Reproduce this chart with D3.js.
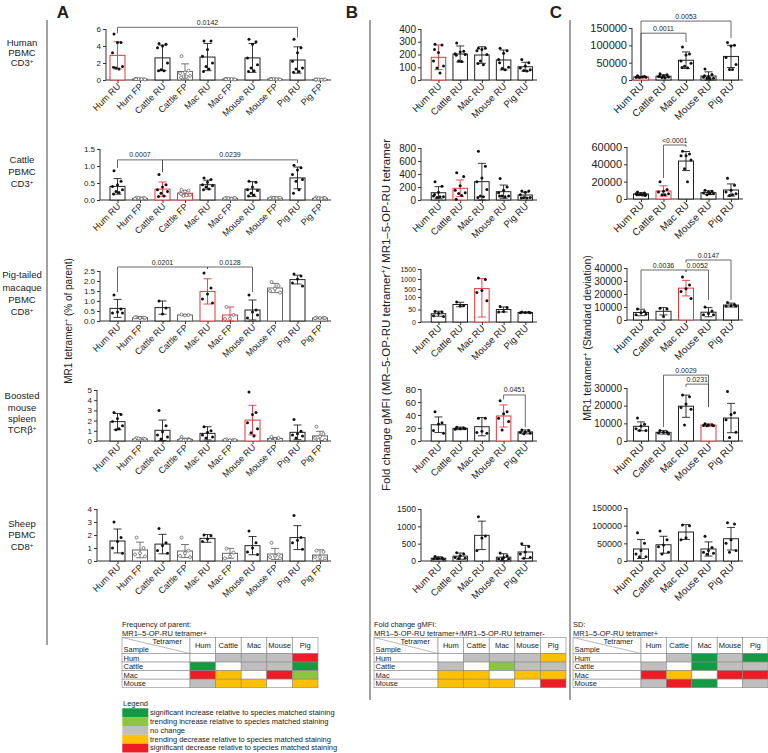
<!DOCTYPE html>
<html><head><meta charset="utf-8">
<script src="https://cdn.jsdelivr.net/npm/d3@7"></script>
<style>body{margin:0;background:#fff}svg{display:block;will-change:opacity;opacity:0.999}text{font-family:"Liberation Sans",Arial,sans-serif;fill:#222;-webkit-font-smoothing:antialiased}</style>
</head><body><svg id="c" width="768" height="753"></svg>
<script>
// ---------------- DATA ----------------
const catsA = ["Hum RU","Hum FP","Cattle RU","Cattle FP","Mac RU","Mac FP","Mouse RU","Mouse FP","Pig RU","Pig FP"];
const catsBC = ["Hum RU","Cattle RU","Mac RU","Mouse RU","Pig RU"];
const rowNames = [["Human","PBMC","CD3^+"],["Cattle","PBMC","CD3^+"],["Pig-tailed","macaque","PBMC","CD8^+"],["Boosted","mouse","spleen","TCRβ^+"],["Sheep","PBMC","CD8^+"]];

const ticksA = [[0,2,4,6],[0,0.5,1,1.5],[0,0.5,1,1.5,2,2.5],[0,1,2,3,4,5],[0,1,2,3,4]];
const ticksB = [[0,100,200,300,400],[0,200,400,600,800],[0,50,100,500,1000,1500],[0,20,40,60,80],[0,500,1000,1500]];
const ticksC = [[0,50000,100000,150000],[0,20000,40000,60000],[0,10000,20000,30000,40000],[0,10000,20000,30000],[0,50000,100000,150000]];

const meanA = [
 [2.9,0.1,2.6,1.0,2.7,0.1,2.6,0.1,2.35,0.05],
 [0.4,0.05,0.32,0.2,0.45,0.05,0.32,0.06,0.65,0.05],
 [0.63,0.17,0.67,0.3,1.48,0.3,0.55,1.65,2.07,0.15],
 [1.9,0.2,1.05,0.15,0.75,0.1,2.05,0.25,0.85,0.5],
 [1.54,0.85,1.3,0.77,1.74,0.59,1.18,0.54,1.8,0.46]];
const sdA = [
 [1.6,0.03,1.5,0.9,1.6,0.03,1.7,0.03,1.55,0.02],
 [0.23,0.02,0.21,0.08,0.13,0.02,0.22,0.02,0.32,0.02],
 [0.45,0.05,0.33,0.03,0.63,0.4,0.5,0.23,0.22,0.03],
 [0.8,0.08,1.0,0.1,0.65,0.04,1.45,0.1,0.72,0.45],
 [0.92,0.6,0.75,0.5,0.3,0.38,0.7,0.43,0.92,0.4]];
const ptsA = [
 [[5.4,4.4,4.4,3.2,1.6,1.4,1.3,1.5],[0.12,0.1,0.08,0.1,0.06,0.12,0.1,0.09],[4.3,4.2,4.0,3.8,2.0,1.2,1.1,1.1],[2.8,1.1,0.9,0.8,0.5,0.4,0.4,0.3],[4.6,4.6,3.6,2.8,2.0,1.6,1.3,1.0],[0.12,0.1,0.08,0.1,0.06,0.12,0.1,0.09],[4.8,4.5,4.2,2.6,1.8,1.4,1.1,1.0],[0.12,0.1,0.08,0.1,0.06,0.12,0.1,0.09],[4.8,3.8,3.2,2.2,1.4,1.3,1.0,0.9],[0.06,0.05,0.04,0.05,0.06,0.05,0.04,0.05]],
 [[0.86,0.55,0.45,0.4,0.3,0.25,0.22,0.18],[0.07,0.06,0.05,0.04,0.05,0.06,0.04],[0.75,0.45,0.38,0.3,0.25,0.2,0.12,0.1],[0.3,0.28,0.25,0.2,0.15,0.12,0.14,0.18],[0.65,0.6,0.52,0.45,0.42,0.38,0.32,0.3],[0.06,0.05,0.04,0.05,0.06,0.05,0.04],[0.55,0.52,0.38,0.3,0.28,0.2,0.15,0.12],[0.07,0.06,0.06,0.05,0.07,0.06,0.05],[1.02,0.95,0.88,0.75,0.6,0.55,0.3,0.2],[0.08,0.06,0.05,0.04,0.06,0.05,0.04]],
 [[1.3,0.6,0.45,0.4,0.4],[0.2,0.17,0.15,0.18,0.16],[1.0,0.65,0.35],[0.32,0.3,0.28],[2.4,1.65,1.35,1.1,0.9],[0.7,0.3,0.12,0.1],[1.3,0.55,0.45,0.15,0.3],[1.95,1.75,1.62,1.5,1.42],[2.35,2.25,2.1,1.9,1.75],[0.17,0.16,0.15,0.14,0.15]],
 [[2.8,2.6,2.2,1.9,1.5,1.1,1.2],[0.3,0.25,0.2,0.15,0.2,0.25],[3.0,1.5,0.9,0.6,0.4,0.2],[0.4,0.2,0.15,0.1,0.12,0.1,0.1,0.15,0.1,0.12],[1.4,1.0,0.85,0.6,0.4,0.3],[0.15,0.1,0.08,0.12,0.1],[4.8,2.8,2.6,1.8,1.2,0.8,0.5],[0.4,0.3,0.2,0.15],[2.1,0.95,0.7,0.6,0.5,0.3],[1.4,0.7,0.45,0.3,0.1,0.1]],
 [[3.0,1.8,1.5,1.0,0.6],[1.8,1.0,0.6,0.5,0.35],[2.5,1.4,1.2,0.8,0.6],[1.8,0.8,0.6,0.4,0.3],[2.0,1.95,1.7,1.5],[0.95,0.65,0.35,0.2],[2.3,1.4,1.0,0.7,0.5],[1.4,0.5,0.4,0.3,0.2],[3.5,1.8,1.6,1.4,0.9],[0.8,0.7,0.3,0.3,0.2]]];

const meanB = [[178,204,196,157,104],[112,180,282,128,77],[33,70,520,50,38],[25,19.5,22,38.5,14],[80,140,740,110,260]];
const sdB = [[97,63,65,78,35],[93,128,282,102,45],[10,9,500,10,2],[12,2,14,17,3],[40,90,410,100,190]];
const ptsB = [
 [[280,275,215,150,110,95,55,240],[290,225,220,205,200,150,145,195],[250,250,240,230,200,150,120,130],[250,230,210,160,100,90,80,135],[160,135,110,95,80,75,70]],
 [[280,210,120,60,50,40,50,85],[420,360,220,150,110,100,70,10],[750,520,340,280,160,60,50,40],[330,200,150,110,60,60,50,60],[140,140,120,80,40,40,30,30]],
 [[42,40,35,25,22],[80,66,64],[1050,980,420,330,85],[62,58,42,40],[40,39,38,37,37]],
 [[45,28,26,16,12],[21,20,19,18,19],[35,35,15,13,12],[62,45,42,35,30,17],[17,16,14,13,12,11]],
 [[130,90,80,60,50,70],[240,200,150,100,80,70],[1280,720,660,300],[230,150,100,60,60,60],[500,420,260,200,100,80]]];

const meanC = [[9000,11000,57000,11500,68000],[5800,9200,43800,7300,10400],[5800,6700,24500,6000,11500],[8300,4900,19700,9000,13000],[34000,46000,82000,34000,63000]];
const sdC = [[2500,4000,24000,12000,32000],[1500,6000,11000,2200,7000],[2500,2800,6000,3500,1500],[2500,1000,6300,700,8300],[27000,24000,21000,20000,32000]];
const ptsC = [
 [[12000,10000,9000,8000,8000,7000,9000,9000],[18000,15000,12000,10000,9000,7000,6000,11000],[95000,75000,72000,55000,48000,40000,35000,36000],[32000,16000,10000,8000,5000,5000,4000,12000],[108000,100000,98000,65000,45000,30000,30000]],
 [[8000,7000,6000,6000,5000,5000,4500,5000,4000],[20000,11000,9000,8000,6000,5000,5000],[55000,52000,50000,50000,45000,35000,20000],[10000,9000,8000,7000,6000,5000,6000],[24000,16000,10000,8000,6000,4000,5000]],
 [[8500,6500,5500,4000,4500],[9000,8500,2700],[33000,27000,24000,22000,16500],[10000,7000,5000,4000,4000],[13500,12000,11000,10500,10500]],
 [[13000,9500,8500,7000,6000,6000],[6000,5000,5000,4500,4000],[26000,25000,21000,19000,18000,9000],[9800,9200,9000,8800,8600,8600],[28000,16000,15000,12000,5000,2000]],
 [[80000,50000,30000,20000,12000,12000],[85000,60000,45000,40000,25000,20000],[102000,100000,66000,60000],[70000,38000,30000,25000,22000,19000],[108000,105000,60000,50000,30000,25000]]];

// species-matched (highlighted) bars per row
const hlA = [[0],[2,3],[4,5],[6],[]];
const hlB = [[0],[1],[2],[3],[]];
const hlC = [[0],[1],[2],[3],[]];

// significance: [row, from, to, label, level, legFromEnd, legToEnd] (data units)
const sigA = [[0,0,8,"0.0142",6.2,5.5,5.0],[1,0,2,"0.0007",1.18,0.94,0.82],[1,2,8,"0.0239",1.18,0.82,1.09],[2,0,4,"0.0201",2.7,1.45,2.6],[2,4,6,"0.0128",2.7,2.6,1.45]];
const sigB = [[3,3,4,"0.0451",70.8,64,21.5]];
const sigC = [[0,0,2,"0.0011",135000,14400,110000],[0,0,4,"0.0053",170000,14400,121000],[1,1,2,"<0.0001",62300,24200,60000],[2,0,2,"0.0036",38460,9200,37000],[2,2,3,"0.0052",38460,37000,15400],[2,2,4,"0.0147",46150,44000,15400],[3,1,3,"0.0029",37300,7900,19200],[3,2,3,"0.0231",32200,30600,19200]];

// tables
const tblCols = ["Hum","Cattle","Mac","Mouse","Pig"];
const tblRows = ["Hum","Cattle","Mac","Mouse"];
const tblA = [["W","G","G","G","R"],["D","W","G","G","D"],["R","Y","W","R","L"],["G","Y","Y","W","Y"]];
const tblB = [["W","G","G","G","Y"],["G","W","L","G","G"],["Y","Y","W","Y","Y"],["Y","Y","Y","W","R"]];
const tblC = [["W","G","D","G","D"],["G","W","D","G","G"],["R","Y","W","R","R"],["G","R","D","W","G"]];
const legendCodes = ["D","L","G","Y","R"];
const legendTexts = ["significant increase relative to species matched staining","trending increase relative to species matched staining","no change","trending  decrease relative to species matched staining","significant decrease relative to species matched staining"];

// ---------------- LAYOUT / STYLE ----------------
const COL = {W:"#ffffff",G:"#bfbfbf",D:"#149a43",L:"#8cc63f",Y:"#ffc000",R:"#ee1c24"};
const RED = "#e8363c", BLK = "#222", FPC = "#666";
const rowY0 = {A:[80,200,321,441,561],B:[80,200,322,441,561],C:[80,199,320,441,561]};
const rowYT = {A:[29,149,271,390,509],B:[29,148,269,389,509],C:[28,147,268,388,508]};
const axisXA = [106,100,100,97,97], axisXB = [421,421,421,421,421], axisXC = [632,627,627,627,627];
const tickFontA = [8,8,8,8,8], tickFontB = [10,10,7,9.5,8.5], tickFontC = [11,11,10,10,9];
const JIT = [-3.5,3.5,0,-5,5,-1.5,1.5,-4,4,0.5,-2,2];

const svg = d3.select("#c");
svg.append("rect").attr("width",768).attr("height",753).attr("fill","#fff");

function supText(sel, s){
  const parts = s.split("^");
  sel.append("tspan").text(parts[0]);
  for(let k=1;k<parts.length;k++){
    sel.append("tspan").attr("baseline-shift","super").attr("font-size","65%").text(parts[k][0]);
    if(parts[k].length>1) sel.append("tspan").text(parts[k].slice(1));
  }
}

function drawPlot(o){
  const g = svg.append("g");
  const x = d3.scalePoint().domain(o.cats).range(o.xRange);
  const y = d3.scaleLinear().domain(o.yDomain).range(o.yRange);
  const y0 = y(0);
  const fmt = o.ticks.some(t=>t%1) ? d3.format(".1f") : d3.format("d");
  const ya = g.append("g").attr("transform",`translate(${o.axisX},0)`)
    .call(d3.axisLeft(y).tickValues(o.ticks).tickSize(3).tickPadding(2).tickFormat(fmt));
  ya.select(".domain").attr("stroke","#333").attr("d",`M0,${y0}V${o.yRange[o.yRange.length-1]}`);
  ya.selectAll(".tick line").attr("stroke","#333");
  ya.selectAll(".tick text").attr("font-size",o.tickFont).attr("fill","#222").attr("font-family",null);
  g.append("line").attr("x1",o.axisX).attr("x2",o.xEnd).attr("y1",y0).attr("y2",y0).attr("stroke","#333");
  const xa = g.append("g").attr("transform",`translate(0,${y0})`).call(d3.axisBottom(x).tickSize(3));
  xa.select(".domain").remove();
  xa.selectAll(".tick line").attr("stroke","#333");
  xa.selectAll(".tick text").attr("y",0).attr("dy",0).attr("text-anchor","end")
    .attr("transform","translate(3,7) rotate(-45)").attr("font-size",o.labFont).attr("fill","#222").attr("font-family",null);

  const rows = o.cats.map((c,i)=>({c,i,m:o.means[i],s:o.sds[i],p:o.pts[i],
      hl:o.hl.includes(i), open:o.openOdd && i%2===1}));
  rows.forEach(d=>{ d.col = d.hl ? RED : (d.open ? FPC : BLK); });
  const bw = o.barW;
  g.selectAll("rect.bar").data(rows).join("rect").attr("class","bar")
    .attr("x",d=>x(d.c)-bw/2).attr("y",d=>y(d.m)).attr("width",bw).attr("height",d=>y0-y(d.m))
    .attr("fill","#fff").attr("stroke",d=>d.col).attr("stroke-width",1);
  const eb = g.selectAll("g.eb").data(rows).join("g").attr("class","eb").attr("stroke",d=>d.col).attr("stroke-width",0.9);
  eb.append("line").attr("x1",d=>x(d.c)).attr("x2",d=>x(d.c)).attr("y1",d=>y(Math.max(0,d.m-d.s))).attr("y2",d=>y(d.m+d.s));
  eb.append("line").attr("x1",d=>x(d.c)-4).attr("x2",d=>x(d.c)+4).attr("y1",d=>y(d.m+d.s)).attr("y2",d=>y(d.m+d.s));
  eb.append("line").attr("x1",d=>x(d.c)-4).attr("x2",d=>x(d.c)+4).attr("y1",d=>y(Math.max(0,d.m-d.s))).attr("y2",d=>y(Math.max(0,d.m-d.s)));
  rows.forEach(d=>{
    g.selectAll(null).data(d.p).join("circle")
      .attr("cx",(v,k)=>x(d.c)+JIT[k%JIT.length]).attr("cy",v=>y(v)).attr("r",1.5)
      .attr("fill",d.open?"#fff":"#111").attr("stroke",d.open?"#555":"none").attr("stroke-width",0.7);
  });
  o.sig.forEach(s=>{
    const xa_ = x(o.cats[s[1]]), xb_ = x(o.cats[s[2]]), yl = y(s[4]);
    g.append("path").attr("d",`M${xa_},${y(s[5])}V${yl}H${xb_}V${y(s[6])}`)
      .attr("fill","none").attr("stroke","#444").attr("stroke-width",0.8);
    g.append("text").attr("x",(xa_+xb_)/2).attr("y",yl-2.5).attr("text-anchor","middle")
      .attr("font-size",7).text(s[3]);
  });
}

for(let r=0;r<5;r++){
  drawPlot({cats:catsA,xRange:[117.5,320],axisX:axisXA[r],xEnd:331,
    yDomain:[0,ticksA[r][ticksA[r].length-1]],yRange:[rowY0.A[r],rowYT.A[r]],ticks:ticksA[r],
    tickFont:tickFontA[r],labFont:9,means:meanA[r],sds:sdA[r],pts:ptsA[r],hl:hlA[r],openOdd:true,barW:15,
    sig:sigA.filter(s=>s[0]===r)});
  const bDom = r===2 ? [0,100,1500] : [0,ticksB[r][ticksB[r].length-1]];
  const bRan = r===2 ? [rowY0.B[r],297,rowYT.B[r]] : [rowY0.B[r],rowYT.B[r]];
  drawPlot({cats:catsBC,xRange:[438.5,525.3],axisX:axisXB[r],xEnd:537,
    yDomain:bDom,yRange:bRan,ticks:ticksB[r],
    tickFont:tickFontB[r],labFont:9.5,means:meanB[r],sds:sdB[r],pts:ptsB[r],hl:hlB[r],openOdd:false,barW:14.5,
    sig:sigB.filter(s=>s[0]===r)});
  drawPlot({cats:catsBC,xRange:[641,731],axisX:axisXC[r],xEnd:743,
    yDomain:[0,ticksC[r][ticksC[r].length-1]],yRange:[rowY0.C[r],rowYT.C[r]],ticks:ticksC[r],
    tickFont:tickFontC[r],labFont:10,means:meanC[r],sds:sdC[r],pts:ptsC[r],hl:hlC[r],openOdd:false,barW:15,
    sig:sigC.filter(s=>s[0]===r)});
}

const rowMid = [53,172,293.5,413,535], rowStep = [10,12,12.3,11.3,11.5];
rowNames.forEach((lines,r)=>{
  lines.forEach((ln,k)=>{
    const t = svg.append("text").attr("x",22).attr("text-anchor","middle").attr("font-size",9.5)
      .attr("y",rowMid[r]+(k-(lines.length-1)/2)*rowStep[r]+3.3);
    supText(t,ln);
  });
});

function yTitle(x,yc,fs,s){
  const t = svg.append("text").attr("transform",`translate(${x},${yc}) rotate(-90)`)
    .attr("text-anchor","middle").attr("font-size",fs).attr("dy","0.35em");
  supText(t,s);
}
yTitle(68,321,10,"MR1 tetramer^+ (% of parent)");
yTitle(386,315,11.5,"Fold change gMFI (MR–5-OP-RU tetramer^+/ MR1–5-OP-RU tetramer");
yTitle(587.5,338,10.5,"MR1 tetramer^+ (Standard deviation)");

[["A",63],["B",352],["C",556]].forEach(([l,x])=>{
  svg.append("text").attr("x",x).attr("y",18).attr("text-anchor","middle").attr("font-size",17)
    .attr("font-weight","bold").attr("fill","#000").text(l);
});

[[47,20,645],[370,20,700],[570,20,700]].forEach(([x,a,b])=>{
  svg.append("line").attr("x1",x).attr("x2",x).attr("y1",a).attr("y2",b).attr("stroke","#444").attr("stroke-width",1);
});

function drawTable(x0,sEnd,cw,title1,title2,data){
  const g = svg.append("g").attr("font-size",7.5);
  g.append("text").attr("x",x0).attr("y",627).attr("font-size",7.5).text(title1);
  g.append("text").attr("x",x0).attr("y",636).attr("font-size",7.5).text(title2);
  const top = 637.5, hh = 16, rh = 8.55;
  const xc = d3.scaleLinear().domain([0,5]).range([sEnd,sEnd+5*cw]);
  const yr = d3.scaleLinear().domain([0,4]).range([top+hh,top+hh+4*rh]);
  g.append("rect").attr("x",x0).attr("y",top).attr("width",sEnd-x0).attr("height",hh).attr("fill","#fff").attr("stroke","#888").attr("stroke-width",0.6);
  g.append("line").attr("x1",x0).attr("y1",top).attr("x2",sEnd).attr("y2",top+hh).attr("stroke","#888").attr("stroke-width",0.6);
  g.append("text").attr("x",sEnd-8).attr("y",top+6.5).attr("text-anchor","end").text("Tetramer");
  g.append("text").attr("x",x0+1.5).attr("y",top+14).text("Sample");
  g.selectAll(null).data(tblCols).join("rect").attr("x",(d,i)=>xc(i)).attr("y",top).attr("width",cw).attr("height",hh)
    .attr("fill","#fff").attr("stroke","#888").attr("stroke-width",0.6);
  g.selectAll(null).data(tblCols).join("text").attr("x",(d,i)=>xc(i)+cw/2).attr("y",top+10.5).attr("text-anchor","middle").text(d=>d);
  tblRows.forEach((rn,r)=>{
    g.append("rect").attr("x",x0).attr("y",yr(r)).attr("width",sEnd-x0).attr("height",rh).attr("fill","#fff").attr("stroke","#888").attr("stroke-width",0.6);
    g.append("text").attr("x",x0+1.5).attr("y",yr(r)+7).text(rn);
    g.selectAll(null).data(data[r]).join("rect").attr("x",(d,i)=>xc(i)).attr("y",yr(r)).attr("width",cw).attr("height",rh)
      .attr("fill",d=>COL[d]).attr("stroke","#888").attr("stroke-width",0.6);
  });
}
drawTable(122,190,25.6,"Frequency of parent:","MR1–5-OP-RU tetramer+",tblA);
drawTable(374,438,25.6,"Fold change gMFI:","MR1–5-OP-RU tetramer+/MR1–5-OP-RU tetramer-",tblB);
drawTable(573,641,25.4,"SD:","MR1–5-OP-RU  tetramer+",tblC);

const lg = svg.append("g");
lg.append("text").attr("x",123).attr("y",706).attr("font-size",7.5).text("Legend");
const ly = d3.scaleLinear().domain([0,5]).range([708.3,752.5]);
lg.selectAll(null).data(legendCodes).join("rect").attr("x",122.3).attr("y",(d,i)=>ly(i)).attr("width",26).attr("height",ly(1)-ly(0))
  .attr("fill",d=>COL[d]);
lg.selectAll(null).data(legendTexts).join("text").attr("x",150).attr("y",(d,i)=>ly(i)+6.8).attr("font-size",7.5).text(d=>d);
</script></body></html>
